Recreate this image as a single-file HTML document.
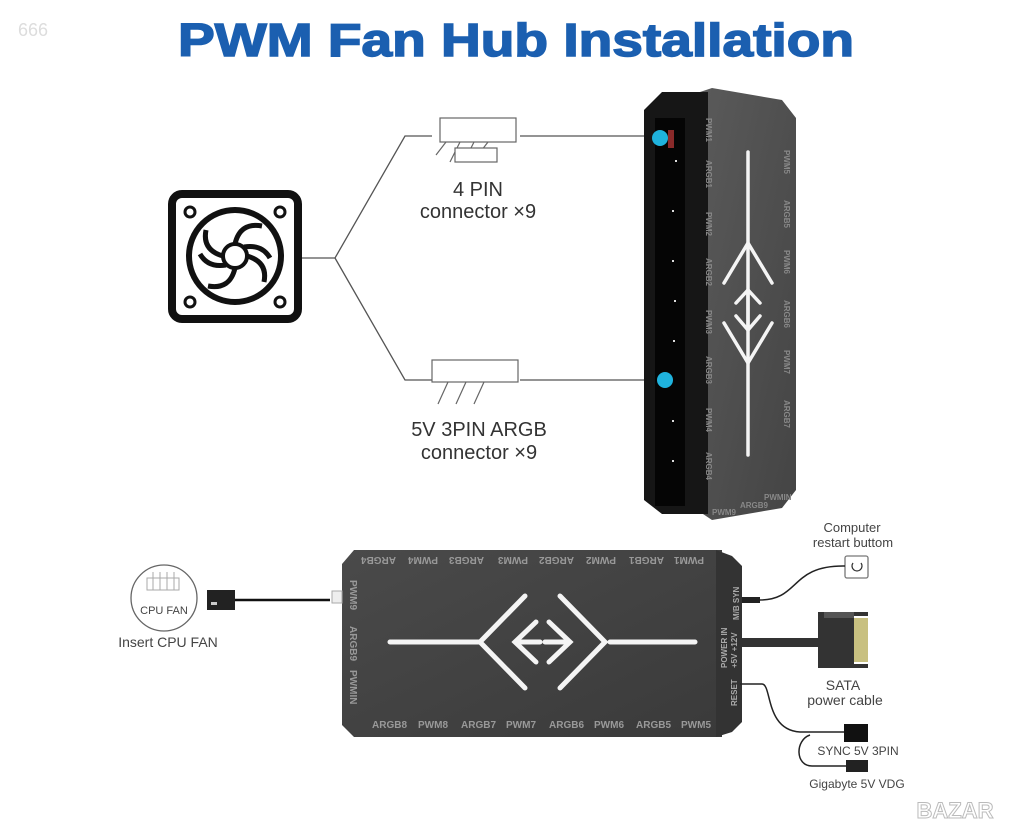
<!DOCTYPE html>
<html><head><meta charset="utf-8"><style>
html,body{margin:0;padding:0;background:#fff;}
svg{display:block;}
text{font-family:"Liberation Sans",sans-serif;}
</style></head><body>
<svg width="1024" height="839" viewBox="0 0 1024 839" xmlns="http://www.w3.org/2000/svg">
<defs>
<linearGradient id="g1" x1="0" y1="0" x2="1" y2="1"><stop offset="0" stop-color="#5a5a5a"/><stop offset="1" stop-color="#444"/></linearGradient>
<linearGradient id="g2" x1="0" y1="0" x2="1" y2="1"><stop offset="0" stop-color="#4a4a4a"/><stop offset="1" stop-color="#3a3a3a"/></linearGradient>
</defs>
<text x="18" y="36" font-size="18" fill="#ddd">666</text>
<text x="178" y="56" font-size="46" font-weight="bold" fill="#1b5fb0" stroke="#1b5fb0" stroke-width="1.5" textLength="676" lengthAdjust="spacingAndGlyphs">PWM Fan Hub Installation</text>

<!-- fan icon -->
<rect x="172" y="194" width="126" height="125" rx="10" fill="none" stroke="#111" stroke-width="8"/>
<circle cx="190" cy="212" r="5" fill="none" stroke="#111" stroke-width="3"/>
<circle cx="280" cy="212" r="5" fill="none" stroke="#111" stroke-width="3"/>
<circle cx="190" cy="302" r="5" fill="none" stroke="#111" stroke-width="3"/>
<circle cx="280" cy="302" r="5" fill="none" stroke="#111" stroke-width="3"/>
<circle cx="235" cy="256" r="46" fill="none" stroke="#111" stroke-width="6"/>
<circle cx="235" cy="256" r="12" fill="none" stroke="#111" stroke-width="4"/>
<g fill="none" stroke="#111" stroke-width="5">
<path d="M235 244 Q240 222 262 226"/><path d="M247 256 Q268 262 264 282"/><path d="M235 268 Q230 290 208 286"/><path d="M223 256 Q202 250 206 230"/><path d="M244 247 Q262 244 270 258"/><path d="M226 265 Q208 268 200 254"/>
</g>

<!-- branch lines -->
<g fill="none" stroke="#555" stroke-width="1.3">
<path d="M302 258 H335 L405 136 H432"/>
<path d="M335 258 L405 380 H432"/>
<path d="M520 136 H660"/>
<path d="M520 380 H665"/>
</g>
<g fill="#fff" stroke="#666" stroke-width="1.2">
<rect x="440" y="118" width="76" height="24"/>
<path d="M446 142 L436 155 M460 142 L450 162 M474 142 L464 162 M488 142 L478 155"/>
<rect x="455" y="148" width="42" height="14"/>
<rect x="432" y="360" width="86" height="22"/>
<path d="M448 382 L438 404 M466 382 L456 404 M484 382 L474 404"/>
</g>
<text x="478" y="196" font-size="20" fill="#333" text-anchor="middle">4 PIN</text>
<text x="478" y="218" font-size="20" fill="#333" text-anchor="middle">connector ×9</text>
<text x="479" y="436" font-size="20" fill="#333" text-anchor="middle">5V 3PIN  ARGB</text>
<text x="479" y="459" font-size="20" fill="#333" text-anchor="middle">connector ×9</text>

<!-- vertical hub -->
<polygon points="700,92 712,88 782,100 796,118 796,490 782,508 712,520 700,512" fill="url(#g1)"/>
<polygon points="644,110 662,92 708,92 708,514 662,514 644,500" fill="#161616"/>
<rect x="655" y="118" width="30" height="388" fill="#050505"/>
<rect x="668" y="130" width="6" height="18" fill="#8a2a2a"/>
<g fill="#ddd"><rect x="675" y="160" width="2" height="2"/><rect x="672" y="210" width="2" height="2"/><rect x="672" y="260" width="2" height="2"/><rect x="674" y="300" width="2" height="2"/><rect x="673" y="340" width="2" height="2"/><rect x="672" y="420" width="2" height="2"/><rect x="672" y="460" width="2" height="2"/></g>
<circle cx="660" cy="138" r="8" fill="#1fb3de"/>
<circle cx="665" cy="380" r="8" fill="#1fb3de"/>
<g stroke="#f4f4f4" stroke-width="3.5" fill="none" stroke-linecap="round">
<path d="M748 152 V455"/>
<path d="M724 283 L748 243 L772 283"/>
<path d="M724 323 L748 363 L772 323"/>
<path d="M736 303 L748 290 L760 303 M748 290 V330 M736 316 L748 330 L760 316"/>
</g>
<g font-size="8" fill="#888" font-weight="bold">
<text transform="translate(706,118) rotate(90)">PWM1</text>
<text transform="translate(706,160) rotate(90)">ARGB1</text>
<text transform="translate(706,212) rotate(90)">PWM2</text>
<text transform="translate(706,258) rotate(90)">ARGB2</text>
<text transform="translate(706,310) rotate(90)">PWM3</text>
<text transform="translate(706,356) rotate(90)">ARGB3</text>
<text transform="translate(706,408) rotate(90)">PWM4</text>
<text transform="translate(706,452) rotate(90)">ARGB4</text>
<text transform="translate(784,150) rotate(90)">PWM5</text>
<text transform="translate(784,200) rotate(90)">ARGB5</text>
<text transform="translate(784,250) rotate(90)">PWM6</text>
<text transform="translate(784,300) rotate(90)">ARGB6</text>
<text transform="translate(784,350) rotate(90)">PWM7</text>
<text transform="translate(784,400) rotate(90)">ARGB7</text>
<text x="712" y="515">PWM9</text><text x="740" y="508">ARGB9</text><text x="764" y="500">PWMIN</text>
</g>

<!-- bottom hub -->
<polygon points="354,550 722,550 722,737 354,737 342,725 342,564" fill="url(#g2)"/>
<polygon points="716,550 732,556 742,566 742,722 732,732 716,737" fill="#333"/>
<rect x="332" y="591" width="10" height="12" fill="#eee" stroke="#aaa"/>
<g font-size="10" fill="#999" font-weight="bold">
<text x="372" y="728">ARGB8</text><text x="418" y="728">PWM8</text><text x="461" y="728">ARGB7</text><text x="506" y="728">PWM7</text><text x="549" y="728">ARGB6</text><text x="594" y="728">PWM6</text><text x="636" y="728">ARGB5</text><text x="681" y="728">PWM5</text>
<g transform="rotate(180 530 561)">
<text x="356" y="565">PWM1</text><text x="396" y="565">ARGB1</text><text x="444" y="565">PWM2</text><text x="486" y="565">ARGB2</text><text x="532" y="565">PWM3</text><text x="576" y="565">ARGB3</text><text x="622" y="565">PWM4</text><text x="664" y="565">ARGB4</text>
</g>
<text transform="translate(350,580) rotate(90)">PWM9</text>
<text transform="translate(350,626) rotate(90)">ARGB9</text>
<text transform="translate(350,670) rotate(90)">PWMIN</text>
</g>
<g font-size="8" fill="#aaa" font-weight="bold">
<text transform="translate(739,620) rotate(-90)">M/B SYN</text>
<text transform="translate(727,668) rotate(-90)">POWER IN</text>
<text transform="translate(737,668) rotate(-90)">+5V +12V</text>
<text transform="translate(737,706) rotate(-90)">RESET</text>
</g>
<g stroke="#f4f4f4" stroke-width="5" fill="none" stroke-linecap="round">
<path d="M390 642 H480 M610 642 H695"/>
<path d="M525 596 L480 642 L525 688"/>
<path d="M560 596 L605 642 L560 688"/>
<path d="M536 622 L515 642 L536 662 M549 622 L570 642 L549 662 M520 642 H540 M545 642 H565"/>
</g>

<!-- left cpu fan -->
<circle cx="164" cy="598" r="33" fill="#fff" stroke="#666" stroke-width="1.3"/>
<g fill="none" stroke="#aaa" stroke-width="1"><rect x="147" y="578" width="32" height="12"/><path d="M153 572 V590 M160 572 V590 M167 572 V590 M174 572 V590"/></g>
<text x="164" y="614" font-size="11" fill="#444" text-anchor="middle">CPU FAN</text>
<text x="168" y="647" font-size="14" fill="#444" text-anchor="middle">Insert CPU FAN</text>
<rect x="207" y="590" width="28" height="20" fill="#222"/>
<rect x="211" y="602" width="6" height="3" fill="#ccc"/>
<path d="M235 600 H330" stroke="#111" stroke-width="2.5"/>

<!-- right side -->
<text x="852" y="532" font-size="13" fill="#444" text-anchor="middle">Computer</text>
<text x="853" y="547" font-size="13" fill="#444" text-anchor="middle">restart buttom</text>
<rect x="845" y="556" width="23" height="22" rx="2" fill="#fff" stroke="#777" stroke-width="1.3"/>
<path d="M853 563 A5 5 0 1 0 861 563" fill="none" stroke="#333" stroke-width="1.3"/>
<rect x="742" y="597" width="18" height="6" fill="#222"/>
<path d="M760 600 C800 600 790 565 845 566" fill="none" stroke="#222" stroke-width="1.5"/>
<rect x="740" y="638" width="82" height="9" fill="#333"/>
<rect x="818" y="612" width="36" height="56" fill="#333"/>
<rect x="824" y="612" width="30" height="6" fill="#555"/>
<rect x="854" y="618" width="14" height="44" fill="#c8c080"/>
<rect x="854" y="612" width="14" height="4" fill="#333"/>
<rect x="854" y="664" width="14" height="4" fill="#333"/>
<text x="843" y="690" font-size="14" fill="#444" text-anchor="middle">SATA</text>
<text x="845" y="705" font-size="14" fill="#444" text-anchor="middle">power cable</text>
<path d="M740 684 H762 C772 684 765 730 800 732 H846" fill="none" stroke="#222" stroke-width="1.5"/>
<path d="M810 735 C795 740 795 766 812 766 H846" fill="none" stroke="#222" stroke-width="1.5"/>
<rect x="844" y="724" width="24" height="18" fill="#111"/>
<rect x="846" y="760" width="22" height="12" fill="#222"/>
<text x="858" y="755" font-size="12" fill="#444" text-anchor="middle">SYNC 5V 3PIN</text>
<text x="857" y="788" font-size="12" fill="#444" text-anchor="middle">Gigabyte 5V VDG</text>
<text x="955" y="818" font-size="22" fill="#fff" stroke="#bbb" stroke-width="1" font-weight="bold" text-anchor="middle">BAZAR</text>
</svg>
</body></html>
